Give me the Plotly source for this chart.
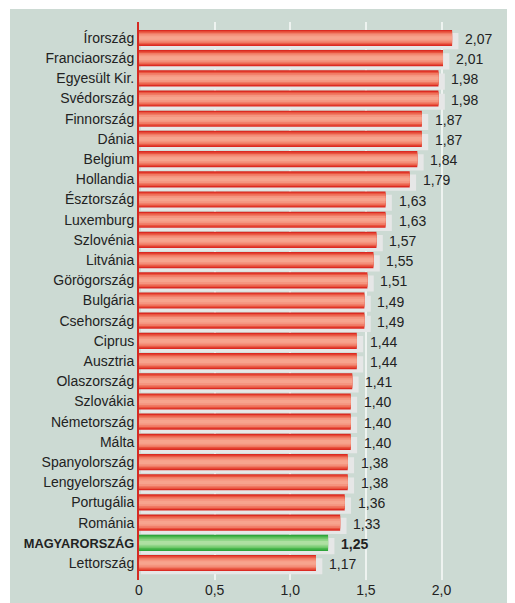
import plotly.graph_objects as go

countries = ["Írország", "Franciaország", "Egyesült Kir.", "Svédország", "Finnország",
             "Dánia", "Belgium", "Hollandia", "Észtország", "Luxemburg", "Szlovénia",
             "Litvánia", "Görögország", "Bulgária", "Csehország", "Ciprus", "Ausztria",
             "Olaszország", "Szlovákia", "Németország", "Málta", "Spanyolország",
             "Lengyelország", "Portugália", "Románia", "MAGYARORSZÁG", "Lettország"]
values = [2.07, 2.01, 1.98, 1.98, 1.87, 1.87, 1.84, 1.79, 1.63, 1.63, 1.57,
          1.55, 1.51, 1.49, 1.49, 1.44, 1.44, 1.41, 1.40, 1.40, 1.40, 1.38,
          1.38, 1.36, 1.33, 1.25, 1.17]
highlight = "MAGYARORSZÁG"
x_tickvals = [0, 0.5, 1.0, 1.5, 2.0]
x_ticktext = ["0", "0,5", "1,0", "1,5", "2,0"]

BAR_W = 0.80
red_layers = [(0.80, "#db2a22"), (0.66, "#e9543f"), (0.52, "#f07a64"), (0.36, "#f5957f"), (0.18, "#f7a48e")]
green_layers = [(0.80, "#2fa43a"), (0.66, "#4cb84f"), (0.52, "#70c86b"), (0.36, "#92d68a"), (0.18, "#aee0a2")]

ytext = [f"<b><span style='font-size:12.8px'>{c}</span></b>" if c == highlight else c
         for c in countries]

fig = go.Figure()

# shadow
fig.add_trace(go.Bar(
    y=countries, x=[v + 0.03 for v in values], base=0.012, orientation="h",
    width=BAR_W, offset=-BAR_W / 2 + 0.16,
    marker=dict(color="#e6e7e7", line=dict(width=0)), hoverinfo="skip", showlegend=False))

for i in range(len(red_layers)):
    w = red_layers[i][0]
    cols = [green_layers[i][1] if c == highlight else red_layers[i][1] for c in countries]
    fig.add_trace(go.Bar(
        y=countries, x=values, orientation="h", width=w,
        marker=dict(color=cols, line=dict(width=0)), showlegend=False,
        hoverinfo="skip" if i else None))

for c, v in zip(countries, values):
    t = f"{v:.2f}".replace(".", ",")
    if c == highlight:
        t = f"<b>{t}</b>"
    fig.add_annotation(x=v, y=c, text=t, showarrow=False, xanchor="left", xshift=11,
                       yshift=-1, font=dict(size=14, color="#222222"))

fig.add_shape(type="rect", xref="paper", yref="paper", x0=-129 / 363, x1=1.2, y0=-0.2,
              y1=1 + 13 / 558, fillcolor="#ccdad3", line=dict(width=0), layer="below")

fig.update_layout(
    width=507, height=595, barmode="overlay",
    margin=dict(l=131, r=13, t=14, b=23, autoexpand=False),
    paper_bgcolor="white", plot_bgcolor="rgba(0,0,0,0)",
    font=dict(family="Liberation Sans, Arial, sans-serif", size=14, color="#222222"),
    xaxis=dict(range=[0, 2.4], tickvals=x_tickvals, ticktext=x_ticktext,
               showgrid=True, gridcolor="#eef3f0", gridwidth=1.5, zeroline=False,
               showline=False, ticks="", tickfont=dict(size=14), automargin=False),
    yaxis=dict(type="category", categoryorder="array", categoryarray=countries,
               tickvals=countries, ticktext=ytext, automargin=False,
               range=[len(countries) - 1 + 0.84, -0.79], showgrid=False,
               showline=True, linecolor="#d42a22", linewidth=2, ticks="",
               tickfont=dict(size=14)),
)

fig.write_html("out.html")
